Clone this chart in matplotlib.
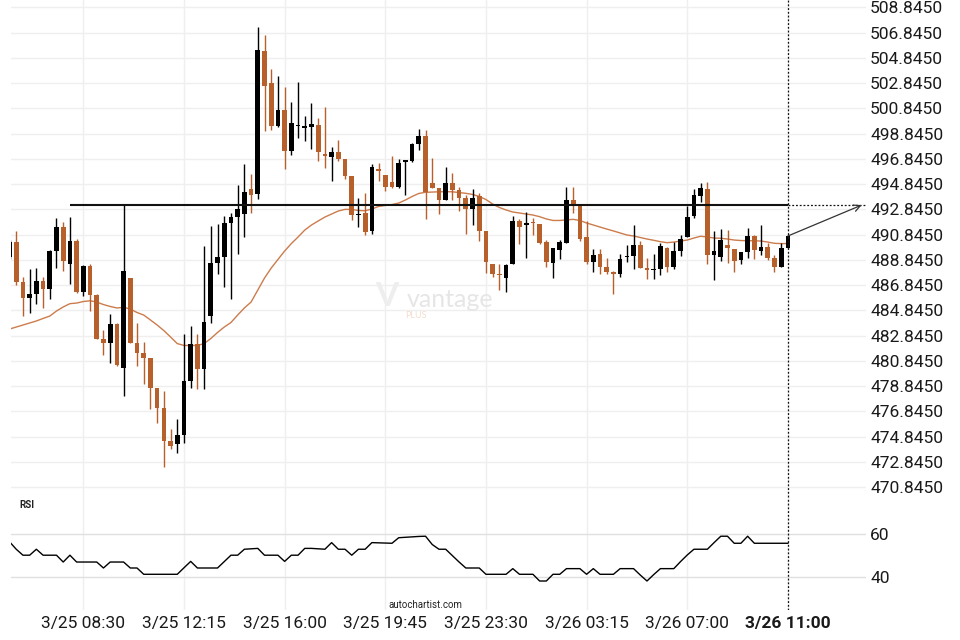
import matplotlib
matplotlib.use("Agg")
import matplotlib.pyplot as plt
import numpy as np

# ---------------- data ----------------
opens = [489.07, 490.26, 487.09, 485.84, 486.16, 487.17, 486.53, 489.54, 491.44, 488.54,
         490.33, 486.32, 488.35, 486.06, 482.57, 482.28, 483.76, 480.30, 487.40, 482.25,
         481.46, 481.07, 478.69, 477.13, 474.49, 474.23, 475.00, 479.27, 482.18, 480.22,
         484.42, 488.59, 489.09, 491.76, 492.26, 492.50, 494.45, 494.08, 505.38, 502.87,
         499.44, 500.73, 497.49, 499.48, 499.31, 499.39, 499.52, 497.25, 496.96, 497.38,
         496.83, 495.48, 492.39, 492.55, 491.15, 496.04, 495.56, 495.01, 494.63, 496.57,
         496.69, 498.02, 498.65, 494.95, 494.53, 493.58, 494.95, 494.37, 493.74, 492.84,
         493.87, 491.13, 488.51, 487.74, 487.43, 488.51, 491.92, 491.58, 491.86, 491.68,
         490.26, 488.62, 489.62, 490.20, 493.58, 493.13, 490.65, 488.69, 489.28, 488.25,
         487.88, 487.74, 489.04, 489.15, 490.02, 488.20, 488.06, 488.14, 489.78, 488.27,
         489.57, 490.65, 492.34, 493.92, 494.45, 489.22, 489.09, 490.02, 489.70, 488.85,
         489.46, 490.70, 489.57, 489.86, 488.99, 488.30, 489.80]
highs = [490.40, 491.13, 487.46, 488.09, 488.17, 487.46, 489.62, 492.13, 491.81, 492.21,
         490.47, 488.43, 488.51, 486.10, 483.26, 484.53, 483.84, 493.18, 487.44, 483.84,
         482.33, 481.10, 478.72, 478.45, 475.42, 476.24, 482.95, 483.60, 482.95, 489.91,
         491.54, 491.66, 492.31, 492.58, 494.77, 496.41, 495.62, 507.31, 506.65, 503.93,
         503.38, 502.51, 501.32, 502.95, 500.23, 501.24, 500.08, 500.92, 497.75, 498.33,
         496.86, 495.50, 493.71, 494.11, 496.43, 496.49, 495.58, 497.07, 496.85, 496.78,
         498.06, 499.18, 499.13, 496.88, 494.55, 496.17, 495.69, 494.61, 493.98, 494.43,
         494.11, 491.15, 488.53, 488.49, 488.49, 492.31, 492.05, 492.61, 492.18, 491.70,
         490.39, 489.78, 490.41, 494.59, 494.64, 493.15, 491.92, 489.70, 489.70, 489.01,
         487.96, 489.30, 490.04, 491.60, 490.33, 488.96, 489.28, 490.15, 489.88, 490.23,
         490.78, 493.13, 494.43, 494.90, 494.98, 491.13, 491.31, 491.20, 489.72, 489.48,
         491.34, 490.81, 491.60, 490.15, 489.23, 490.20, 490.80]
lows = [488.90, 486.85, 484.37, 484.60, 485.37, 485.00, 485.72, 488.22, 487.98, 486.90,
        486.22, 486.00, 484.79, 482.55, 481.28, 480.69, 480.46, 478.09, 482.23, 480.46,
        479.03, 477.05, 475.94, 472.46, 473.89, 473.52, 474.36, 478.71, 478.58, 478.63,
        483.82, 487.70, 486.71, 485.72, 489.28, 490.67, 492.53, 493.64, 499.05, 499.15,
        499.34, 496.01, 497.17, 498.47, 498.23, 497.60, 496.70, 496.11, 495.11, 496.65,
        495.22, 492.00, 491.42, 490.81, 490.87, 495.09, 494.29, 494.55, 494.50, 493.98,
        496.61, 497.54, 492.10, 494.50, 492.47, 493.55, 493.58, 492.73, 490.89, 491.60,
        490.33, 487.77, 487.51, 486.45, 486.32, 488.48, 490.10, 488.96, 490.81, 490.10,
        488.30, 487.38, 488.88, 490.18, 492.53, 490.33, 488.49, 487.86, 487.72, 487.72,
        486.14, 487.46, 488.67, 488.14, 488.18, 487.35, 487.30, 487.64, 487.90, 488.14,
        489.15, 490.63, 492.13, 493.45, 488.49, 487.22, 488.78, 488.59, 487.90, 488.49,
        488.96, 488.93, 489.20, 488.83, 487.90, 488.28, 489.75]
closes = [490.26, 487.09, 485.84, 486.11, 487.17, 486.53, 489.54, 491.44, 488.75, 490.33,
          486.32, 488.35, 486.06, 482.60, 482.28, 483.76, 480.54, 487.96, 482.28, 481.49,
          481.09, 478.71, 477.13, 474.52, 474.12, 474.97, 479.24, 482.18, 480.22, 483.92,
          488.59, 489.07, 491.76, 492.24, 492.87, 494.21, 494.00, 505.46, 502.63, 499.46,
          500.73, 497.49, 499.68, 499.54, 499.44, 499.60, 497.41, 497.09, 497.38, 496.85,
          495.48, 492.42, 492.47, 491.07, 496.19, 495.90, 494.63, 494.63, 496.51, 496.75,
          498.02, 498.65, 494.21, 494.53, 493.58, 494.95, 494.37, 493.76, 492.84, 493.74,
          491.15, 488.69, 487.74, 487.64, 488.43, 491.92, 491.47, 491.76, 491.76, 490.20,
          488.69, 489.76, 490.26, 493.58, 493.13, 490.49, 488.69, 489.22, 488.25, 487.90,
          487.74, 488.91, 489.15, 490.02, 488.20, 488.06, 488.14, 489.91, 488.30, 489.54,
          490.47, 492.24, 493.98, 494.53, 489.22, 489.57, 490.44, 489.78, 488.77, 489.46,
          490.70, 489.62, 489.86, 488.99, 488.30, 489.78, 490.73]
ma_values = [483.36, 483.52, 483.68, 483.84, 484.00, 484.20, 484.39, 484.79, 485.11, 485.37,
             485.42, 485.54, 485.60, 485.50, 485.30, 485.15, 485.03, 485.08, 484.95, 484.67,
             484.47, 484.08, 483.68, 483.24, 482.73, 482.21, 482.06, 482.06, 482.06, 482.21,
             482.61, 483.09, 483.52, 483.88, 484.47, 485.03, 485.50, 486.45, 487.40, 488.19,
             488.87, 489.54, 490.13, 490.65, 491.20, 491.60, 491.92, 492.23, 492.47, 492.71,
             492.84, 492.83, 492.75, 492.73, 492.87, 493.07, 493.15, 493.22, 493.34, 493.58,
             493.86, 494.10, 494.19, 494.21, 494.23, 494.24, 494.23, 494.17, 494.11, 494.02,
             493.86, 493.62, 493.26, 492.99, 492.79, 492.63, 492.55, 492.47, 492.39, 492.26,
             492.08, 491.96, 491.96, 492.00, 492.05, 491.96, 491.76, 491.60, 491.44, 491.28,
             491.13, 490.97, 490.81, 490.73, 490.61, 490.49, 490.39, 490.28, 490.20, 490.25,
             490.33, 490.41, 490.57, 490.71, 490.65, 490.57, 490.55, 490.49, 490.41, 490.37,
             490.36, 490.35, 490.33, 490.25, 490.15, 490.13, 490.13]
rsi_values = [56.5, 53.0, 50.2, 50.2, 53.0, 50.2, 50.2, 50.2, 47.0, 50.2,
              47.0, 47.0, 47.0, 47.0, 44.2, 47.0, 47.0, 47.0, 44.2, 44.2,
              41.25, 41.25, 41.25, 41.25, 41.25, 41.25, 44.3, 47.3, 44.2, 44.2,
              44.2, 44.2, 47.2, 50.2, 50.2, 53.0, 53.2, 53.4, 50.2, 50.2,
              50.2, 47.3, 50.2, 50.2, 53.4, 53.4, 53.2, 53.0, 56.1, 53.0,
              53.0, 50.2, 53.0, 53.0, 56.1, 56.0, 55.9, 55.8, 58.4, 58.6,
              58.8, 59.0, 59.1, 55.2, 53.0, 53.0, 50.0, 47.0, 44.2, 44.2,
              44.2, 41.25, 41.25, 41.25, 41.25, 43.9, 41.25, 41.25, 41.25, 38.1,
              38.1, 41.25, 41.25, 43.9, 43.9, 43.9, 41.25, 43.9, 41.25, 41.25,
              41.25, 43.9, 43.9, 43.9, 40.9, 38.1, 41.1, 43.9, 43.9, 43.9,
              47.2, 50.3, 53.0, 53.0, 53.0, 56.1, 59.1, 59.1, 55.8, 55.8,
              59.1, 55.8, 55.8, 55.8, 55.8, 55.8, 55.8]
level = 493.18
level_start = 9
target_index = 127
tick_positions = [11, 26, 41, 56, 71, 86, 101, 116]
tick_labels = ["3/25 08:30", "3/25 12:15", "3/25 16:00", "3/25 19:45",
               "3/25 23:30", "3/26 03:15", "3/26 07:00", "3/26 11:00"]
price_ticks = [470.845 + 2 * k for k in range(20)]
rsi_ticks = [40, 60]

# ---------------- style ----------------
UP = "#000000"
DOWN = "#b8602b"
MA_COLOR = "#cc7c4c"
GRID = "#efefef"
FONT = ["Roboto", "DejaVu Sans"]
plt.rcParams["font.family"] = FONT

fig = plt.figure(figsize=(9.6, 6.4), dpi=100)
W, H = 960, 640
ax = fig.add_axes([11 / W, 1 - 497 / H, 855 / W, 497 / H])
axr = fig.add_axes([11 / W, 1 - 610 / H, 855 / W, 113 / H])

n = len(closes)
idx = np.arange(n)
o = np.array(opens); c = np.array(closes); h = np.array(highs); l = np.array(lows)
up = c >= o
cols = np.where(up, UP, DOWN)
body = np.where(np.abs(c - o) < 0.08, 0.08 * np.where(up, 1, -1), c - o)

xlim = (0.22, 127.64)
for a in (ax, axr):
    a.set_xlim(*xlim)
    for s in a.spines.values():
        s.set_visible(False)
    a.set_xticks(tick_positions)
    a.grid(True, axis="x", color=GRID, lw=1.0)
    a.set_axisbelow(True)
    a.axvline(116, color="#111111", lw=0.9, ls=(0, (1.5, 1.5)), zorder=5)

# main panel
ax.set_ylim(470.06, 509.42)
ax.set_yticks(price_ticks)
ax.set_yticklabels([f"{v:.4f}" for v in price_ticks])
ax.yaxis.tick_right()
ax.tick_params(axis="y", length=0, pad=3, labelsize=12.5, labelcolor="#1a1a1a")
ax.tick_params(axis="x", length=0, labelbottom=False)
ax.grid(True, axis="y", color=GRID, lw=1.0)

ax.vlines(idx, l, h, colors=cols, lw=1.0, zorder=3)
ax.bar(idx, body, bottom=o, width=0.7, color=cols, edgecolor="none", zorder=3)
ax.plot(idx, ma_values, color=MA_COLOR, lw=1.0, zorder=2)

ax.plot([level_start, n - 1], [level, level], color="#111111", lw=1.5, zorder=4,
        solid_capstyle="butt")
ax.plot([n - 1, xlim[1]], [level, level], color="#111111", lw=0.9,
        ls=(0, (1.5, 1.5)), zorder=4)
ax.annotate("", xy=(target_index, level), xytext=(n - 1, closes[-1]),
            arrowprops=dict(arrowstyle="->", color="#333333", lw=0.9,
                            shrinkA=0, shrinkB=0, mutation_scale=12), zorder=6)

# watermark
ax.text(0.440, 0.404, "V", transform=ax.transAxes, fontsize=24, fontweight="bold",
        color="#eeeeee", ha="center", va="center", family=["Lato", "DejaVu Sans"])
ax.text(0.514, 0.398, "vantage", transform=ax.transAxes, fontsize=18,
        color="#e6e6e6", ha="center", va="center", family=["Lato", "DejaVu Sans"])
ax.text(0.461, 0.366, "PLUS", transform=ax.transAxes, fontsize=6.5,
        color="#f3ddcd", ha="left", va="center", family=["Lato", "DejaVu Sans"])

# RSI panel
axr.set_ylim(24.5, 77.5)
axr.plot(idx, rsi_values, color="#000000", lw=1.0, zorder=3)
axr.set_yticks(rsi_ticks)
axr.yaxis.tick_right()
axr.grid(True, axis="y", color="#e0e0e0", lw=1.0)
axr.tick_params(axis="y", length=0, pad=3, labelsize=12.5, labelcolor="#1a1a1a")
axr.set_xticklabels(tick_labels)
axr.tick_params(axis="x", length=0, pad=4, labelsize=12.5, labelcolor="#1a1a1a")
axr.get_xticklabels()[-1].set_fontweight("bold")
axr.text(19 / W, 1 - 505 / H, "RSI", transform=fig.transFigure, fontsize=7,
         fontweight="bold", color="#222222", ha="left", va="center")
fig.text(425 / W, 1 - 605 / H, "autochartist.com", fontsize=7, color="#222222",
         ha="center", va="center")

fig.savefig("out.png", dpi=100)
